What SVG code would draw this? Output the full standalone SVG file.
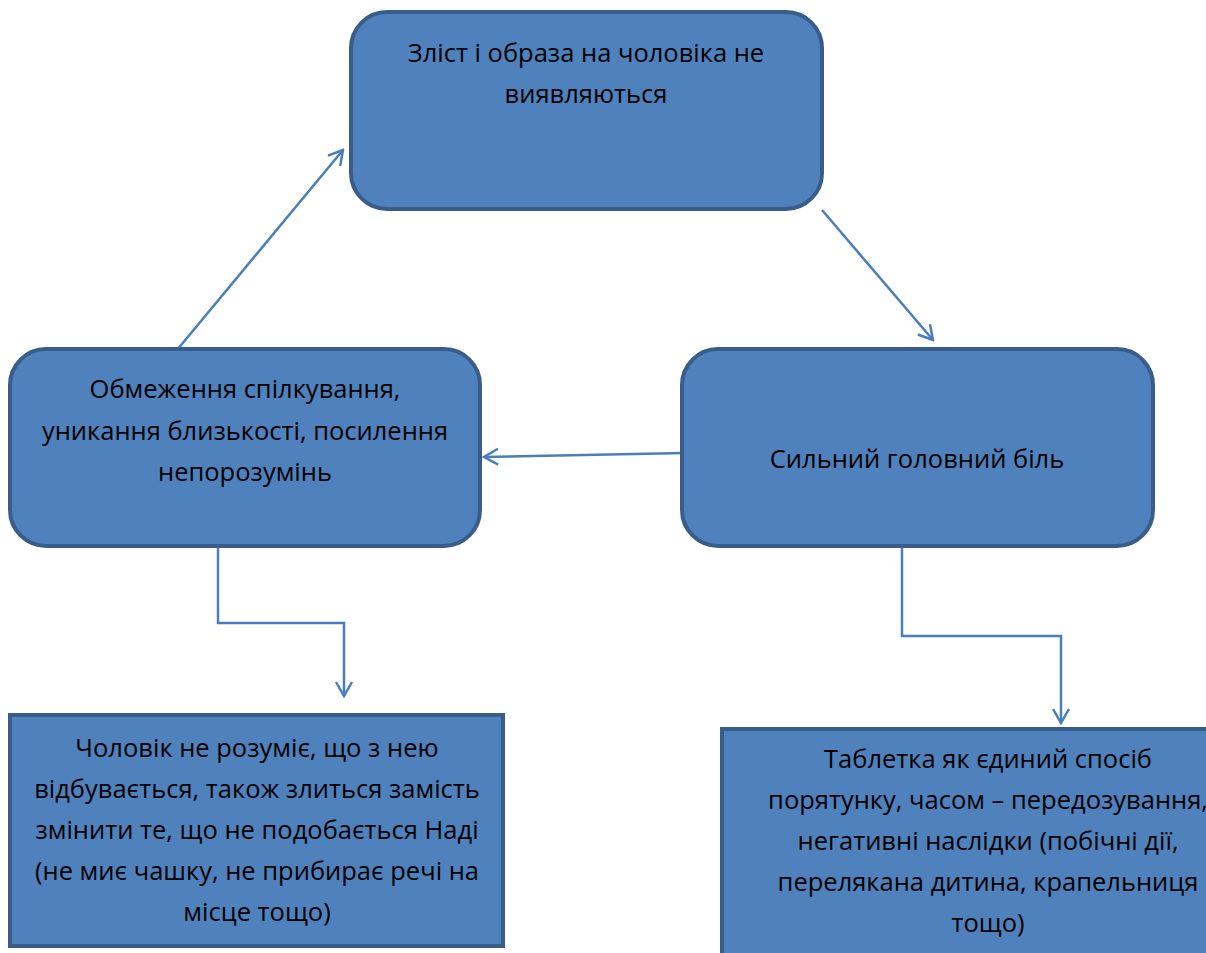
<svg xmlns="http://www.w3.org/2000/svg" width="1206" height="953" viewBox="0 0 1206 953">
<defs>
<style>
.box{fill:#4f81bd;stroke:#385d8a;stroke-width:4}
.t{font-family:"Open Sans","Liberation Sans",sans-serif;font-size:25.5px;fill:#000;text-anchor:middle}
.c{fill:none;stroke:#4a7ebb;stroke-width:2.5}
</style>
<marker id="ah" viewBox="0 0 20 20" refX="18" refY="10" markerWidth="20" markerHeight="20" markerUnits="userSpaceOnUse" orient="auto">
<path d="M4,2 L18,10 L4,18" fill="none" stroke="#4a7ebb" stroke-width="2.5"/>
</marker>
</defs>
<rect width="1206" height="953" fill="#fff"/>
<g id="connectors">
<line class="c" x1="177" y1="350" x2="343" y2="150" marker-end="url(#ah)"/>
<line class="c" x1="822" y1="210" x2="933" y2="340" marker-end="url(#ah)"/>
<line class="c" x1="685" y1="453" x2="484" y2="457" marker-end="url(#ah)"/>
<polyline class="c" points="218,546 218,623 344,623 344,696" marker-end="url(#ah)"/>
<polyline class="c" points="902,546 902,636 1061,636 1061,723" marker-end="url(#ah)"/>
</g>
<g id="n1">
<rect class="box" x="351" y="12" width="471" height="197" rx="36"/>
<text class="t" x="586" y="62">Зліст і образа на чоловіка не</text>
<text class="t" x="586" y="103">виявляються</text>
</g>
<g id="n2">
<rect class="box" x="10" y="349" width="470" height="197" rx="36"/>
<text class="t" x="245" y="398">Обмеження спілкування,</text>
<text class="t" x="245" y="440">уникання близькості, посилення</text>
<text class="t" x="245" y="481">непорозумінь</text>
</g>
<g id="n3">
<rect class="box" x="682" y="349" width="471" height="197" rx="36"/>
<text class="t" x="917" y="468">Сильний головний біль</text>
</g>
<g id="n4">
<rect class="box" x="10" y="715" width="493" height="231"/>
<text class="t" x="257" y="757">Чоловік не розуміє, що з нею</text>
<text class="t" x="257" y="798">відбувається, також злиться замість</text>
<text class="t" x="257" y="839">змінити те, що не подобається Наді</text>
<text class="t" x="257" y="880">(не миє чашку, не прибирає речі на</text>
<text class="t" x="257" y="921">місце тощо)</text>
</g>
<g id="n5">
<rect class="box" x="722" y="729" width="490" height="240"/>
<text class="t" x="988" y="768">Таблетка як єдиний спосіб</text>
<text class="t" x="988" y="809">порятунку, часом – передозування,</text>
<text class="t" x="988" y="850">негативні наслідки (побічні дії,</text>
<text class="t" x="988" y="891">перелякана дитина, крапельниця</text>
<text class="t" x="988" y="932">тощо)</text>
</g>
</svg>
